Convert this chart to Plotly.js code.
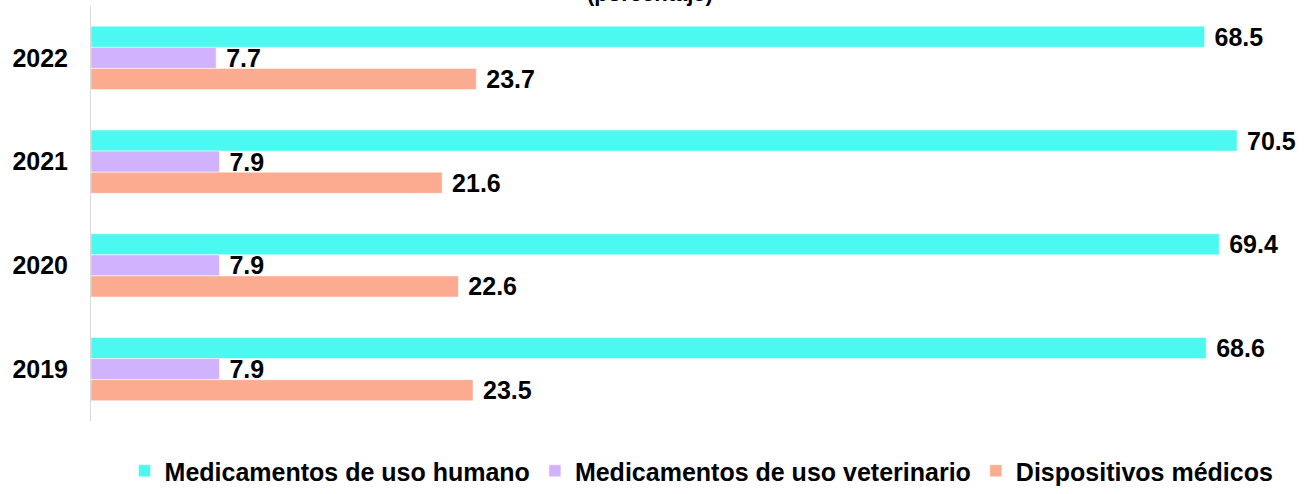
<!DOCTYPE html>
<html>
<head>
<meta charset="utf-8">
<script src="https://cdn.plot.ly/plotly-3.0.1.min.js"></script>
<style>html,body{margin:0;padding:0;background:#fff;}#chart{width:1304px;height:494px;}</style>
</head>
<body>
<div id="chart"></div>
<script>
const years = ['2022', '2021', '2020', '2019'];
const seriesNames = ['Medicamentos de uso humano', 'Medicamentos de uso veterinario', 'Dispositivos médicos'];
const humano = [68.5, 70.5, 69.4, 68.6];
const veterinario = [7.7, 7.9, 7.9, 7.9];
const dispositivos = [23.7, 21.6, 22.6, 23.5];
const titleText = '(porcentaje)';

const colors = ['#4cf9f1', '#d1b3fd', '#fbab8f'];
const values = [humano, veterinario, dispositivos];

const traces = values.map((v, i) => ({
  type: 'bar',
  orientation: 'h',
  name: seriesNames[i],
  y: years,
  x: v,
  marker: {color: colors[i], line: {color: '#ffffff', width: 0.5}},
  text: v.map(n => '\u00a0' + n.toFixed(1)),
  textposition: 'outside',
  constraintext: 'none',
  cliponaxis: false,
  textfont: {family: 'Liberation Sans, Arial, sans-serif', size: 25, color: '#000', weight: 'bold'},
  hoverinfo: 'x+name'
}));

const layout = {
  width: 1304, height: 494,
  margin: {l: 91, r: 10, t: 6, b: 73},
  paper_bgcolor: '#fff', plot_bgcolor: '#fff',
  font: {family: 'Liberation Sans, Arial, sans-serif', size: 25, color: '#000'},
  barmode: 'group',
  bargap: 0.39,
  bargroupgap: 0,
  showlegend: true,
  xaxis: {range: [0, 74], showgrid: false, zeroline: false, showticklabels: false, showline: false, ticks: ''},
  yaxis: {type: 'category', autorange: 'reversed', showgrid: false, zeroline: false,
          showline: true, linecolor: '#d9d9d9', linewidth: 1, ticks: '',
          ticklabelstandoff: 17,
          tickfont: {size: 25, weight: 'bold', color: '#000'}},
  legend: {orientation: 'h', xref: 'container', yref: 'container', x: 0.538, xanchor: 'center',
           y: 0, yanchor: 'bottom', font: {size: 25, weight: 'bold', color: '#000'},
           itemwidth: 30, traceorder: 'normal'},
  annotations: [{text: titleText, xref: 'paper', yref: 'paper', x: 0.4647, y: 0.996,
                 xanchor: 'center', yanchor: 'bottom', showarrow: false,
                 font: {size: 22, weight: 'bold', color: '#000'}}]
};

Plotly.newPlot('chart', traces, layout, {displayModeBar: false, staticPlot: true});
</script>
</body>
</html>
